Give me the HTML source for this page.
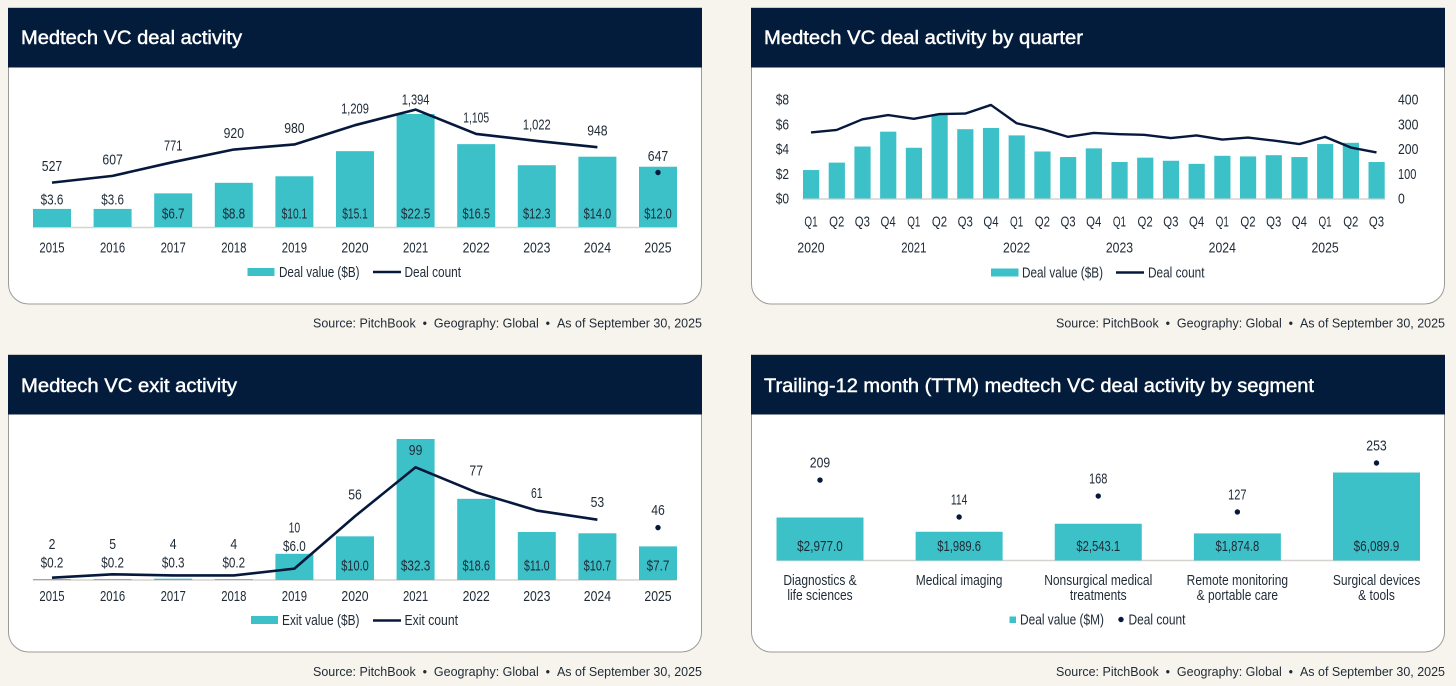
<!DOCTYPE html>
<html lang="en">
<head>
<meta charset="utf-8">
<title>Medtech VC activity charts</title>
<style>
html,body{margin:0;padding:0;background:#f7f4ee;width:1456px;height:686px;overflow:hidden}
svg{display:block;position:absolute;left:0;top:0}
text{font-family:"Liberation Sans",sans-serif;font-size:15px;fill:#1f2a36}
.title{font-family:"Liberation Sans",sans-serif;font-weight:400;font-size:19.5px;fill:#fff;stroke:#fff;stroke-width:.45px}
.source{font-family:"Liberation Sans",sans-serif;font-size:12.5px;fill:#1f2a36}
.card{fill:#fff;stroke:#9b9b98;stroke-width:1}
.head{fill:#041c3b}
</style>
</head>
<body>
<svg id="page" width="1456" height="686" viewBox="0 0 1456 686" xmlns="http://www.w3.org/2000/svg">
  <g>
    <path class="card" d="M8.5 8H701.5V284a20 20 0 0 1-20 20H28.500a20 20 0 0 1-20-20Z"/>
    <rect class="head" x="8" y="8" width="694" height="59.500"/>
    <text class="title" x="21" y="44" textLength="221" lengthAdjust="spacingAndGlyphs">Medtech VC deal activity</text>
    <g id="c1"></g>
    <rect x="247.500" y="268" width="27" height="8" fill="#3cc1c9"/>
    <text x="279" y="277" textLength="80.500" lengthAdjust="spacingAndGlyphs">Deal value ($B)</text>
    <line x1="373" x2="401" y1="272" y2="272" stroke="#07183d" stroke-width="2.500"/>
    <text x="404.500" y="277" textLength="56.500" lengthAdjust="spacingAndGlyphs">Deal count</text>
    <text class="source" x="313" y="327.500" textLength="389" lengthAdjust="spacingAndGlyphs">Source: PitchBook&#160;&#160;•&#160;&#160;Geography: Global&#160;&#160;•&#160;&#160;As of September 30, 2025</text>
  </g>
  <g>
    <path class="card" d="M751.500 8H1444.500V284a20 20 0 0 1-20 20H771.500a20 20 0 0 1-20-20Z"/>
    <rect class="head" x="751" y="8" width="694" height="59.500"/>
    <text class="title" x="764" y="44" textLength="319" lengthAdjust="spacingAndGlyphs">Medtech VC deal activity by quarter</text>
    <g id="c2"></g>
    <rect x="991" y="268.500" width="27.500" height="8" fill="#3cc1c9"/>
    <text x="1022" y="277.500" textLength="81" lengthAdjust="spacingAndGlyphs">Deal value ($B)</text>
    <line x1="1116" x2="1144" y1="272.500" y2="272.500" stroke="#07183d" stroke-width="2.500"/>
    <text x="1148" y="277.500" textLength="56.500" lengthAdjust="spacingAndGlyphs">Deal count</text>
    <text class="source" x="1056" y="327.500" textLength="389" lengthAdjust="spacingAndGlyphs">Source: PitchBook&#160;&#160;•&#160;&#160;Geography: Global&#160;&#160;•&#160;&#160;As of September 30, 2025</text>
  </g>
  <g>
    <path class="card" d="M8.500 355H701.500V632a20 20 0 0 1-20 20H28.500a20 20 0 0 1-20-20Z"/>
    <rect class="head" x="8" y="355" width="694" height="59.500"/>
    <text class="title" x="21" y="392" textLength="216" lengthAdjust="spacingAndGlyphs">Medtech VC exit activity</text>
    <g id="c3"></g>
    <rect x="251" y="616" width="27" height="8" fill="#3cc1c9"/>
    <text x="282" y="625" textLength="77.500" lengthAdjust="spacingAndGlyphs">Exit value ($B)</text>
    <line x1="373" x2="401" y1="620.500" y2="620.500" stroke="#07183d" stroke-width="2.500"/>
    <text x="404.500" y="625" textLength="53.500" lengthAdjust="spacingAndGlyphs">Exit count</text>
    <text class="source" x="313" y="676" textLength="389" lengthAdjust="spacingAndGlyphs">Source: PitchBook&#160;&#160;•&#160;&#160;Geography: Global&#160;&#160;•&#160;&#160;As of September 30, 2025</text>
  </g>
  <g>
    <path class="card" d="M751.500 355H1444.500V632a20 20 0 0 1-20 20H771.500a20 20 0 0 1-20-20Z"/>
    <rect class="head" x="751" y="355" width="694" height="59.500"/>
    <text class="title" x="764" y="392" textLength="550" lengthAdjust="spacingAndGlyphs">Trailing-12 month (TTM) medtech VC deal activity by segment</text>
    <g id="c4"></g>
    <rect x="1009.500" y="616.500" width="6.500" height="6.500" fill="#3cc1c9"/>
    <text x="1020" y="624.500" textLength="84" lengthAdjust="spacingAndGlyphs">Deal value ($M)</text>
    <circle cx="1121" cy="619.500" r="2.700" fill="#07183d"/>
    <text x="1128.500" y="624.500" textLength="57" lengthAdjust="spacingAndGlyphs">Deal count</text>
    <text class="source" x="1056" y="676" textLength="389" lengthAdjust="spacingAndGlyphs">Source: PitchBook&#160;&#160;•&#160;&#160;Geography: Global&#160;&#160;•&#160;&#160;As of September 30, 2025</text>
  </g>
</svg>
<script>
const years = ['2015','2016','2017','2018','2019','2020','2021','2022','2023','2024','2025'];
const dealValues = [3.6,3.6,6.7,8.8,10.1,15.1,22.5,16.5,12.3,14.0,12.0];
const dealCounts = [527,607,771,920,980,1209,1394,1105,1022,948,647];

const quarters = ['Q1','Q2','Q3','Q4','Q1','Q2','Q3','Q4','Q1','Q2','Q3','Q4','Q1','Q2','Q3','Q4','Q1','Q2','Q3','Q4','Q1','Q2','Q3'];
const quarterYears = ['2020','2021','2022','2023','2024','2025'];
const quarterValues = [2.3,2.9,4.2,5.4,4.1,6.75,5.6,5.7,5.1,3.8,3.35,4.05,2.95,3.3,3.05,2.8,3.45,3.4,3.5,3.35,4.4,4.5,2.95];
const quarterCounts = [267,277,320,337,322,341,343,378,304,280,249,265,260,257,244,255,238,246,234,220,249,206,186];
const leftTicks = [0,2,4,6,8];
const rightTicks = [0,100,200,300,400];

const exitValues = [0.2,0.2,0.3,0.2,6.0,10.0,32.3,18.6,11.0,10.7,7.7];
const exitCounts = [2,5,4,4,10,56,99,77,61,53,46];

const segmentLines = [['Diagnostics &','life sciences'],['Medical imaging'],['Nonsurgical medical','treatments'],['Remote monitoring','& portable care'],['Surgical devices','& tools']];
const segmentValues = [2977.0,1989.6,2543.1,1874.8,6089.9];
const segmentCounts = [209,114,168,127,253];

const SVGNS = 'http://www.w3.org/2000/svg';
const TEAL = '#3cc1c9';
const NAVY = '#07183d';
const RULE = '#d6d3ce';

function shape(parent, tag, props) {
  const node = document.createElementNS(SVGNS, tag);
  for (const key in props) node.setAttribute(key, props[key]);
  parent.appendChild(node);
  return node;
}
/* The reference face is condensed with a narrow "1"; fit each label to that width. */
function condensedWidth(str, natural) {
  if (!/^[$\d.,Q]+$/.test(str)) return natural * 0.8;
  let w = 0;
  for (const ch of str) {
    if (ch === '1') w += 4.8;
    else if (ch === '$') w += 6.5;
    else if (ch === ',' || ch === '.') w += 2.6;
    else if (ch === 'Q') w += 8.4;
    else w += 6.8;
  }
  return w;
}
function label(parent, str, x, yCenter, anchor) {
  const node = shape(parent, 'text', {x: x, y: yCenter + 5, 'text-anchor': anchor || 'middle'});
  node.textContent = str;
  node.setAttribute('textLength', condensedWidth(str, node.getComputedTextLength()));
  node.setAttribute('lengthAdjust', 'spacingAndGlyphs');
  return node;
}
function linear(d0, d1, r0, r1) {
  return function (v) { return r0 + (v - d0) / (d1 - d0) * (r1 - r0); };
}
function money(v) {
  return '$' + v.toLocaleString('en-US', {minimumFractionDigits: 1, maximumFractionDigits: 1});
}

/* Chart 1: annual deal activity */
(function () {
  const g = document.getElementById('c1');
  const x = linear(0, 10, 52, 658);
  const yVal = linear(0, 22.5, 227, 114);
  const yCnt = linear(0, 1394, 227, 109.6);
  const base = shape(g, 'line', {x1: 33, x2: 677, y1: 227.5, y2: 227.5, stroke: RULE, 'stroke-width': 1.5});
  
  
  years.forEach(function (yr, i) {
    const bar = shape(g, 'rect', {x: x(i) - 19, y: yVal(dealValues[i]), width: 38, height: 227 - yVal(dealValues[i]), fill: TEAL});
    
    
    const small = dealValues[i] < 5;
    const vLab = label(g, money(dealValues[i]), x(i), small ? yVal(dealValues[i]) - 9.5 : 213.5);
    
    
    const tick = label(g, yr, x(i), 247.5);
    
    
    const peak = dealCounts[i] === Math.max.apply(null, dealCounts);
    const cLab = label(g, dealCounts[i].toLocaleString('en-US'), x(i), yCnt(dealCounts[i]) - (peak ? 10 : 16.5));
    
    
  });
  const pts = dealCounts.slice(0, -1).map(function (v, i) { return x(i) + ',' + yCnt(v); }).join(' ');
  const line = shape(g, 'polyline', {points: pts, fill: 'none', stroke: NAVY, 'stroke-width': 2.6, 'stroke-linejoin': 'round'});
  
  
  const last = dealCounts.length - 1;
  const dot = shape(g, 'circle', {cx: x(last), cy: yCnt(dealCounts[last]), r: 2.7, fill: NAVY});
  
  
})();

/* Chart 2: quarterly deal activity */
(function () {
  const g = document.getElementById('c2');
  const x = linear(0, 22, 811, 1376.5);
  const yVal = linear(0, 8, 198.5, 99.5);
  const yCnt = linear(0, 400, 198.5, 99.5);
  const base = shape(g, 'line', {x1: 802.5, x2: 1385, y1: 199, y2: 199, stroke: RULE, 'stroke-width': 1.5});
  
  
  leftTicks.forEach(function (t) {
    const n = label(g, '$' + t, 789, yVal(t), 'end');
    
    
  });
  rightTicks.forEach(function (t) {
    const n = label(g, String(t), 1398, yCnt(t), 'start');
    
    
  });
  quarters.forEach(function (q, i) {
    const bar = shape(g, 'rect', {x: x(i) - 8, y: yVal(quarterValues[i]), width: 16.2, height: 198.5 - yVal(quarterValues[i]), fill: TEAL});
    
    
    const n = label(g, q, x(i), 221.5);
    
    
  });
  quarterYears.forEach(function (yr, i) {
    const n = label(g, yr, x(i * 4), 247.5);
    
    
  });
  const pts = quarterCounts.map(function (v, i) { return x(i) + ',' + yCnt(v); }).join(' ');
  const line = shape(g, 'polyline', {points: pts, fill: 'none', stroke: NAVY, 'stroke-width': 2.4, 'stroke-linejoin': 'round'});
  
  
})();

/* Chart 3: exit activity */
(function () {
  const g = document.getElementById('c3');
  const x = linear(0, 10, 52, 658);
  const yVal = linear(0, 32.3, 580, 439);
  const yCnt = linear(0, 99, 580, 467.3);
  const base = shape(g, 'line', {x1: 33, x2: 677, y1: 580, y2: 580, stroke: RULE, 'stroke-width': 1.5});
  
  
  years.forEach(function (yr, i) {
    const v = exitValues[i];
    const bar = shape(g, 'rect', {x: x(i) - 19, y: yVal(v), width: 38, height: 580 - yVal(v), fill: TEAL});
    
    
    const above = v < 7;
    const vy = v < 1 ? 562.5 : (above ? yVal(v) - 8 : 565.5);
    const vLab = label(g, money(v), x(i), vy);
    
    
    const tick = label(g, yr, x(i), 596);
    
    
    const steep = exitCounts[i] === 56 || exitCounts[i] === 77;
    const cy = above ? vy - 18.5 : yCnt(exitCounts[i]) - (steep ? 22 : 17.5);
    const cLab = label(g, String(exitCounts[i]), x(i), cy);
    
    
  });
  const pts = exitCounts.slice(0, -1).map(function (v, i) { return x(i) + ',' + yCnt(v); }).join(' ');
  const line = shape(g, 'polyline', {points: pts, fill: 'none', stroke: NAVY, 'stroke-width': 2.6, 'stroke-linejoin': 'round'});
  
  
  const last = exitCounts.length - 1;
  const dot = shape(g, 'circle', {cx: x(last), cy: yCnt(exitCounts[last]) , r: 2.7, fill: NAVY});
  
  
})();

/* Chart 4: segments */
(function () {
  const g = document.getElementById('c4');
  const x = linear(0, 4, 820, 1376.5);
  const yVal = linear(0, 6089.9, 560.5, 472.5);
  const yCnt = linear(0, 253, 561.3, 463);
  const base = shape(g, 'line', {x1: 776.5, x2: 1420, y1: 560.5, y2: 560.5, stroke: RULE, 'stroke-width': 1.5});
  
  
  segmentLines.forEach(function (lines, i) {
    const v = segmentValues[i];
    const bar = shape(g, 'rect', {x: x(i) - 43.5, y: yVal(v), width: 87, height: 560.5 - yVal(v), fill: TEAL});
    
    
    const vLab = label(g, money(v), x(i), 546);
    
    
    const dot = shape(g, 'circle', {cx: x(i), cy: yCnt(segmentCounts[i]), r: 2.7, fill: NAVY});
    
    
    const cLab = label(g, String(segmentCounts[i]), x(i), yCnt(segmentCounts[i]) - 17.5);
    
    
    lines.forEach(function (txt, j) {
      const c = label(g, txt, x(i), 580 + j * 15);
      
      
    });
  });
})();
</script>
</body>
</html>
